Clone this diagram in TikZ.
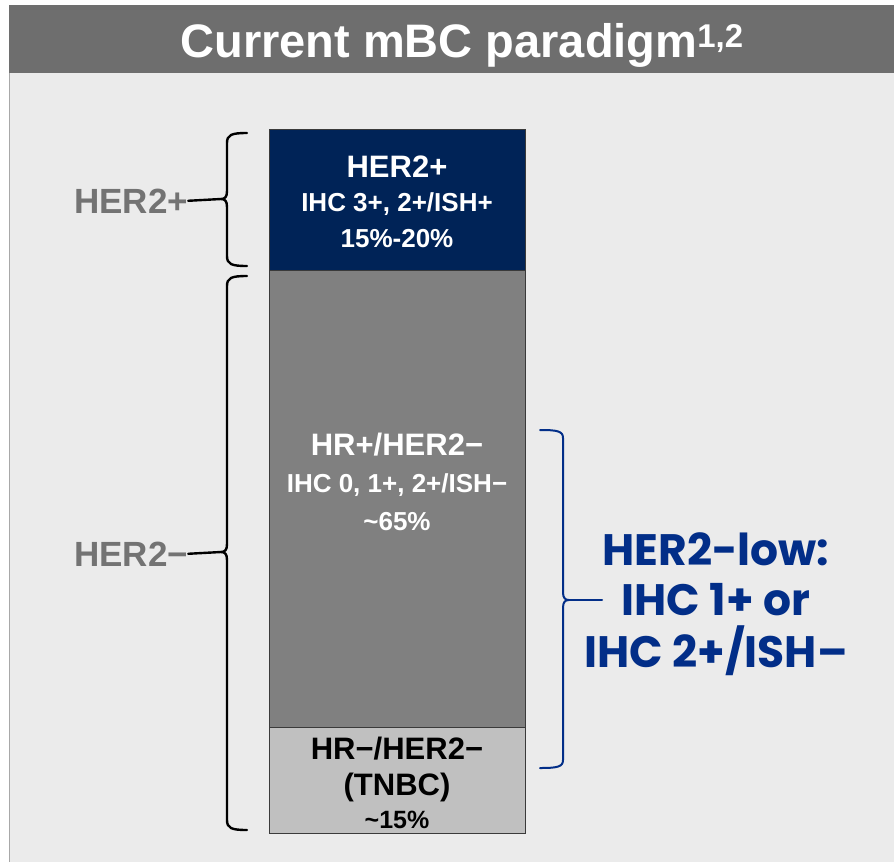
\documentclass[tikz,border=0pt]{standalone}
\usepackage{fontspec}
\setmainfont{Liberation Sans}
\newfontfamily\gothic{Poppins}
\definecolor{bgc}{HTML}{EBEBEB}
\definecolor{headc}{HTML}{6E6E6E}
\definecolor{framec}{HTML}{A8A8A8}
\definecolor{navy}{HTML}{002357}
\definecolor{midgray}{HTML}{808080}
\definecolor{lightgray}{HTML}{C0C0C0}
\definecolor{boxline}{HTML}{3A3A3A}
\definecolor{labelgray}{HTML}{737373}
\definecolor{lowblue}{HTML}{022E88}
\tikzset{
  box/.style={draw=boxline, line width=1pt, inner sep=0pt, anchor=north west, minimum width=256pt},
  bigtxt/.style={anchor=base, inner sep=0pt, font=\fontsize{31}{36}\selectfont\bfseries},
  smalltxt/.style={anchor=base, inner sep=0pt, font=\fontsize{26}{30}\selectfont\bfseries},
  sidelabel/.style={anchor=base west, inner sep=0pt, text=labelgray, font=\fontsize{35}{40}\selectfont\bfseries},
  bracel/.style={line width=2.4pt, line cap=round, line join=round},
  lowtxt/.style={anchor=base, inner sep=0pt, text=lowblue, font=\fontsize{44}{50}\selectfont\gothic\bfseries}
}
\begin{document}
\begin{tikzpicture}[x=1pt,y=-1pt]
\useasboundingbox (0,0) rectangle (894,862);
\fill[white] (0,0) rectangle (894,862);
\fill[bgc] (9,5) rectangle (894,862);
\draw[framec, line width=1.2pt] (9.6,73) -- (9.6,862);
\fill[headc] (9,5) rectangle (894,73);
\node[anchor=base, inner sep=0pt, text=white, font=\fontsize{47}{52}\selectfont\bfseries] (title) at (462,57) {Current mBC paradigm\textsuperscript{1,2}};

% stacked bar
\node[box, fill=navy, minimum height=141pt] (bpos) at (269,129) {};
\node[box, fill=midgray, minimum height=457pt] (bhr) at (269,270) {};
\node[box, fill=lightgray, minimum height=106pt] (btn) at (269,727) {};

\node[bigtxt, text=white] (t1a) at (397,177) {HER2+};
\node[smalltxt, text=white] (t1b) at (397,211) {IHC 3+, 2+/ISH+};
\node[smalltxt, text=white] (t1c) at (397,247) {15\%-20\%};

\node[bigtxt, text=white] (t2a) at (397,455) {HR+/HER2−};
\node[smalltxt, text=white] (t2b) at (397,492) {IHC 0, 1+, 2+/ISH−};
\node[smalltxt, text=white] (t2c) at (397,530) {\textasciitilde 65\%};

\node[bigtxt, text=black] (t3a) at (397,759) {HR−/HER2−};
\node[bigtxt, text=black] (t3b) at (397,795) {(TNBC)};
\node[smalltxt, text=black, font=\fontsize{25}{28}\selectfont\bfseries] (t3c) at (397,828) {\textasciitilde 15\%};

% left labels and braces
\node[sidelabel] (lpos) at (74,213) {HER2+};
\node[sidelabel] (lneg) at (74,566) {HER2−};

\coordinate (m1) at (221,199);
\coordinate (m2) at (221,552);
\draw[bracel] (247,133) .. controls (231,133) and (227,135) .. (227,143) -- (227,191)
  .. controls (227,197) and (225,199) .. (m1) .. controls (225,199) and (227,201) .. (227,207)
  -- (227,256) .. controls (227,264) and (231,266) .. (247,266);
\draw[bracel] (247,276) .. controls (231,276) and (227,278) .. (227,286) -- (227,544)
  .. controls (227,550) and (225,552) .. (m2) .. controls (225,552) and (227,554) .. (227,560)
  -- (227,820) .. controls (227,828) and (231,830) .. (247,830);
\draw[bracel] (lpos.east) -- (m1);
\draw[bracel] (lneg.east) -- (m2);

% right HER2-low brace
\coordinate (m3) at (569,600);
\coordinate (e3) at (602,600);
\draw[bracel, draw=lowblue, line width=2pt] (540,430) .. controls (557,430) and (563,431) .. (563,438) -- (563,592)
  .. controls (563,598) and (565,600) .. (m3) .. controls (565,600) and (563,602) .. (563,608)
  -- (563,760) .. controls (563,767) and (557,768) .. (540,768);
\draw[bracel, draw=lowblue, line width=2pt] (m3) -- (e3);

\node[lowtxt] (h1) at (716,565) {HER2-low:};
\node[lowtxt] (h2) at (716,615) {IHC 1+ or};
\node[lowtxt] (h3) at (716,667) {IHC 2+/ISH–};
\end{tikzpicture}
\end{document}
